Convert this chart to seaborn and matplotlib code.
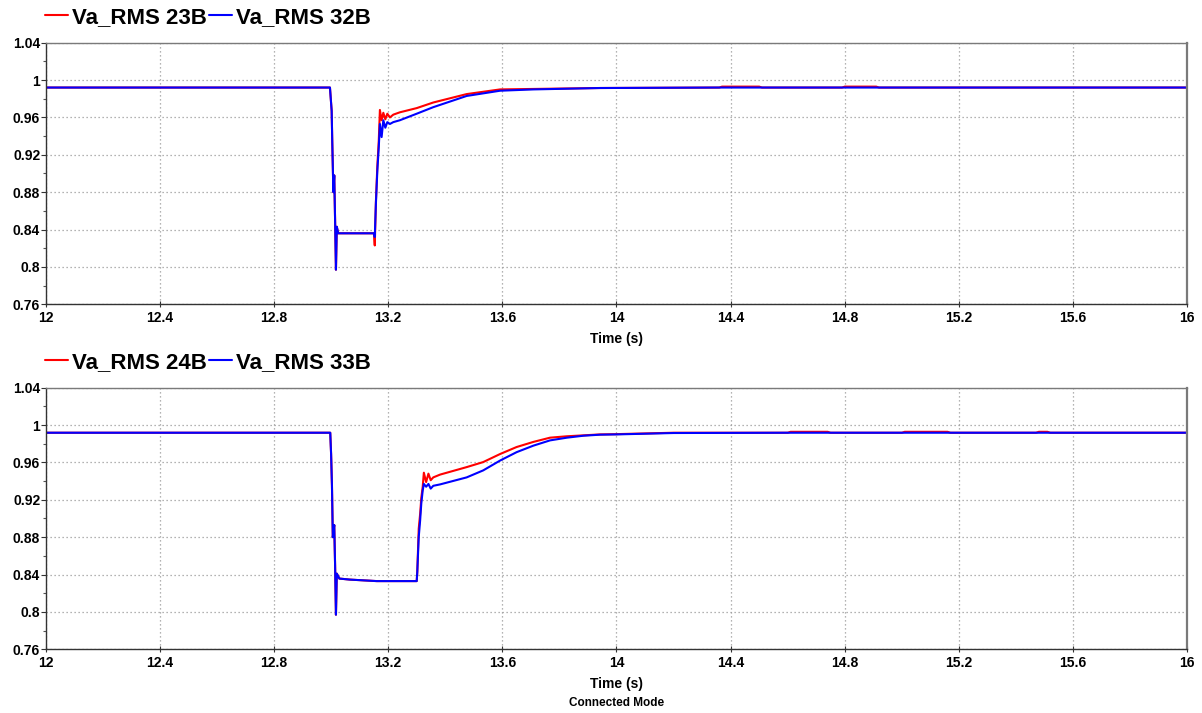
import numpy as np
import pandas as pd
import matplotlib
matplotlib.use("Agg")
import matplotlib.pyplot as plt
import seaborn as sns
from matplotlib.ticker import FuncFormatter, MultipleLocator

# ---------------- data ----------------
series_top = ["Va_RMS 23B", "Va_RMS 32B"]
series_bot = ["Va_RMS 24B", "Va_RMS 33B"]

t_top = [12.0, 12.996, 13.002, 13.004, 13.008, 13.011, 13.014, 13.017, 13.020, 13.025,
         13.150, 13.153, 13.157, 13.162, 13.167, 13.171, 13.177, 13.183, 13.190, 13.197,
         13.206, 13.218, 13.241, 13.300, 13.358, 13.475, 13.592, 13.709, 13.942,
         14.36, 14.37, 14.50, 14.51, 14.79, 14.80, 14.91, 14.92, 16.0]
v_23b = [0.992, 0.992, 0.967, 0.935, 0.880, 0.898, 0.850, 0.797, 0.843, 0.836,
         0.836, 0.823, 0.870, 0.908, 0.935, 0.968, 0.957, 0.965, 0.958, 0.964,
         0.960, 0.963, 0.9655, 0.970, 0.976, 0.985, 0.990, 0.9905, 0.9915,
         0.992, 0.993, 0.993, 0.992, 0.992, 0.993, 0.993, 0.992, 0.992]
v_32b = [0.992, 0.992, 0.967, 0.935, 0.880, 0.898, 0.850, 0.797, 0.843, 0.836,
         0.836, 0.832, 0.868, 0.903, 0.928, 0.953, 0.939, 0.957, 0.949, 0.955,
         0.953, 0.955, 0.957, 0.964, 0.971, 0.983, 0.9886, 0.990, 0.9915,
         0.992, 0.992, 0.992, 0.992, 0.992, 0.992, 0.992, 0.992, 0.992]

t_bot = [12.0, 12.997, 13.000, 13.003, 13.006, 13.011, 13.014, 13.017, 13.020, 13.029,
         13.066, 13.160, 13.300, 13.302, 13.307, 13.312, 13.316, 13.321, 13.325, 13.333,
         13.341, 13.349, 13.358, 13.382, 13.475, 13.533, 13.592, 13.650, 13.709, 13.767,
         13.826, 13.884, 13.942, 14.0, 14.2, 14.60, 14.61, 14.74, 14.75, 15.00, 15.01,
         15.16, 15.17, 15.47, 15.48, 15.51, 15.52, 16.0]
v_24b = [0.9918, 0.9918, 0.969, 0.9355, 0.880, 0.893, 0.850, 0.797, 0.841, 0.8357,
         0.8346, 0.833, 0.833, 0.843, 0.889, 0.905, 0.922, 0.934, 0.949, 0.939,
         0.948, 0.941, 0.944, 0.947, 0.955, 0.9604, 0.969, 0.9765, 0.982, 0.9865,
         0.988, 0.989, 0.990, 0.9903, 0.9918, 0.9918, 0.9928, 0.9928, 0.9918, 0.9918, 0.9928,
         0.9928, 0.9918, 0.9918, 0.9928, 0.9928, 0.9918, 0.9918]
v_33b = [0.9918, 0.9918, 0.969, 0.9355, 0.880, 0.893, 0.850, 0.797, 0.841, 0.8357,
         0.8346, 0.833, 0.833, 0.843, 0.880, 0.898, 0.916, 0.930, 0.937, 0.934,
         0.937, 0.932, 0.935, 0.9365, 0.944, 0.9515, 0.962, 0.971, 0.978, 0.9836,
         0.9865, 0.9886, 0.9897, 0.990, 0.9915, 0.9918, 0.9918, 0.9918, 0.9918, 0.9918, 0.9918,
         0.9918, 0.9918, 0.9918, 0.9918, 0.9918, 0.9918, 0.9918]

x_ticks = [12, 12.4, 12.8, 13.2, 13.6, 14, 14.4, 14.8, 15.2, 15.6, 16]
y_ticks = [0.76, 0.8, 0.84, 0.88, 0.92, 0.96, 1.0, 1.04]
x_label = "Time (s)"
footer = "Connected Mode"
colors = ["#ff0000", "#0000ff"]

# ---------------- style ----------------
sns.set_theme(style="white")
plt.rcParams["font.family"] = ["Liberation Sans", "DejaVu Sans"]
plt.rcParams["font.weight"] = "bold"
plt.rcParams["text.color"] = "black"
plt.rcParams["axes.labelcolor"] = "black"
plt.rcParams["xtick.color"] = "black"
plt.rcParams["ytick.color"] = "black"

W, H = 1202, 713
fig = plt.figure(figsize=(W / 100, H / 100), dpi=100)
fig.patch.set_facecolor("white")

left = 45.7 / W
width = (1187.3 - 45.7) / W
ax_h = 261.6 / H
ax1 = fig.add_axes([left, 1 - 304.3 / H, width, ax_h])
ax2 = fig.add_axes([left, 1 - 649.3 / H, width, ax_h])


def draw(ax, t, a, b, names):
    df = pd.DataFrame({
        "t": list(t) + list(t),
        "v": list(a) + list(b),
        "s": [names[0]] * len(t) + [names[1]] * len(t),
    })
    sns.lineplot(data=df, x="t", y="v", hue="s", hue_order=names,
                 palette=dict(zip(names, colors)), estimator=None, sort=False,
                 linewidth=1.5, ax=ax, legend=False)
    ax.set_xlim(12, 16)
    ax.set_ylim(0.76, 1.04)
    ax.set_xticks(x_ticks)
    ax.set_yticks(y_ticks)
    ax.yaxis.set_minor_locator(MultipleLocator(0.02))
    fmt = FuncFormatter(lambda v, p: f"{v:g}")
    ax.xaxis.set_major_formatter(fmt)
    ax.yaxis.set_major_formatter(fmt)
    for lab in ax.get_xticklabels() + ax.get_yticklabels():
        lab.set_fontweight("bold")
    ax.tick_params(axis="x", which="major", direction="inout", length=4, width=0.8,
                   color="#333333", pad=3.0, labelsize=10, labelcolor="black")
    ax.tick_params(axis="y", which="major", direction="out", length=3.5, width=0.8,
                   color="#333333", pad=0.5, labelsize=10, labelcolor="black", left=True)
    ax.tick_params(axis="y", which="minor", direction="out", length=2, width=0.8,
                   color="#555555", left=True)
    ax.tick_params(axis="x", bottom=True)
    ax.grid(True, which="major", color="#9a9a9a", linestyle=(0, (1, 2.2)), linewidth=0.9)
    ax.set_axisbelow(True)
    ax.set_xlabel(x_label, fontsize=10, fontweight="bold", labelpad=5, color="black")
    ax.set_ylabel("")
    for side in ["left", "bottom"]:
        ax.spines[side].set_color("#333333")
        ax.spines[side].set_linewidth(1.0)
    ax.spines["top"].set_color("#7a7a7a")
    ax.spines["top"].set_linewidth(1.0)
    ax.spines["right"].set_color("#7a7a7a")
    ax.spines["right"].set_linewidth(1.6)
    for s in ax.spines.values():
        s.set_visible(True)
    handles = [plt.Line2D([], [], color=c, linewidth=1.5) for c in colors]
    leg = ax.legend(handles, names, loc="center left",
                    bbox_to_anchor=(-0.001, 1 + 25.5 / 261.6),
                    ncol=2, frameon=False, handlelength=1.05, handletextpad=0.18,
                    columnspacing=0.1, borderpad=0, borderaxespad=0,
                    prop={"weight": "bold", "size": 16})
    for txt in leg.get_texts():
        txt.set_color("black")


draw(ax1, t_top, v_23b, v_32b, series_top)
draw(ax2, t_bot, v_24b, v_33b, series_bot)

fig.text((616.6) / W, 1 - 703.5 / H, footer, ha="center", va="center",
         fontsize=8.5, fontweight="bold", color="black")

fig.savefig("out.png", dpi=100, facecolor="white")
